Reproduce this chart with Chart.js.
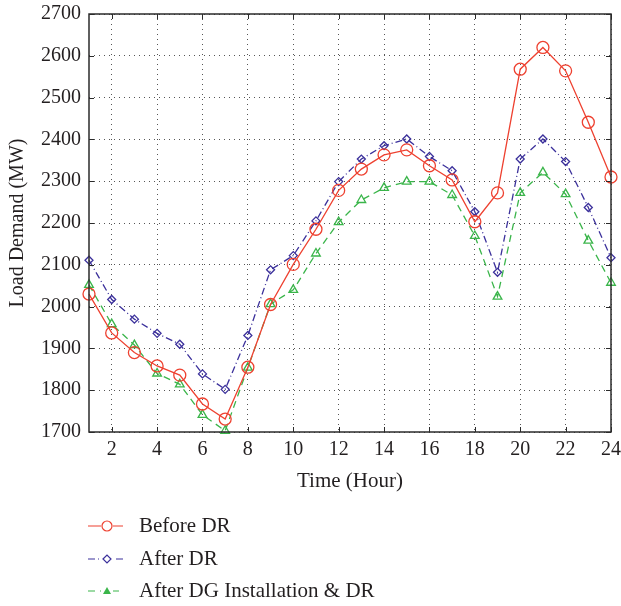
<!DOCTYPE html>
<html>
<head>
<meta charset="utf-8">
<script src="https://cdn.jsdelivr.net/npm/chart.js@4.4.1/dist/chart.umd.min.js"></script>
<style>
    html, body { margin: 0; padding: 0; background: #ffffff; }
    #wrap { width: 621px; height: 606px; }
</style>
</head>
<body>
<div id="wrap"><canvas id="loadChart" width="621" height="606"></canvas></div>
<script>
const hours = [1, 2, 3, 4, 5, 6, 7, 8, 9, 10, 11, 12, 13, 14, 15, 16, 17, 18, 19, 20, 21, 22, 23, 24];
const beforeDR = [2030, 1937, 1890, 1858, 1836, 1767, 1731, 1855, 2005, 2101, 2185, 2278,
                  2329, 2363, 2375, 2337, 2303, 2203, 2272, 2568, 2620, 2564, 2441, 2310];
const afterDR = [2111, 2017, 1970, 1936, 1910, 1839, 1802, 1931, 2088, 2122, 2205, 2299,
                 2353, 2385, 2401, 2359, 2325, 2227, 2082, 2353, 2401, 2347, 2237, 2117];
const afterDG = [2052, 1958, 1908, 1840, 1814, 1741, 1703, 1854, 2006, 2040, 2127, 2202,
                 2255, 2284, 2299, 2299, 2267, 2169, 2024, 2272, 2321, 2269, 2158, 2057];
const xTicks = [2, 4, 6, 8, 10, 12, 14, 16, 18, 20, 22, 24];
const yTicks = [1700, 1800, 1900, 2000, 2100, 2200, 2300, 2400, 2500, 2600, 2700];

const serif = "'Liberation Serif', 'DejaVu Serif', serif";
const textColor = '#231f20';

const series = [
    { label: 'Before DR', data: beforeDR, color: '#ee4130', dash: [], point: 'circle', radius: 6 },
    { label: 'After DR', data: afterDR, color: '#3b309b', dash: [7, 3, 1, 3], point: 'rectRot', radius: 4 },
    { label: 'After DG Installation & DR', data: afterDG, color: '#3ab54a', dash: [7, 5], point: 'triangle', radius: 5 }
];
const legendRows = [526, 559, 591];

// frame around the plot with ticks pointing inwards, and the legend below
const framePlugin = {
    id: 'frame',
    afterDraw(chart) {
        const ctx = chart.ctx;
        const a = chart.chartArea;
        const xs = chart.scales.x;
        const ys = chart.scales.y;
        ctx.save();
        ctx.strokeStyle = '#2b2b2b';
        ctx.lineWidth = 1.5;
        ctx.strokeRect(a.left, a.top, a.right - a.left, a.bottom - a.top);
        ctx.lineWidth = 1;
        ctx.beginPath();
        xTicks.forEach(v => {
            const px = Math.round(xs.getPixelForValue(v)) + 0.5;
            ctx.moveTo(px, a.bottom); ctx.lineTo(px, a.bottom - 5);
            ctx.moveTo(px, a.top); ctx.lineTo(px, a.top + 5);
        });
        yTicks.forEach(v => {
            const py = Math.round(ys.getPixelForValue(v)) + 0.5;
            ctx.moveTo(a.left, py); ctx.lineTo(a.left + 5, py);
            ctx.moveTo(a.right, py); ctx.lineTo(a.right - 5, py);
        });
        ctx.stroke();

        // legend
        ctx.font = '21px ' + serif;
        ctx.textBaseline = 'middle';
        series.forEach((s, i) => {
            const y = legendRows[i];
            ctx.strokeStyle = s.color;
            ctx.lineWidth = 1.2;
            ctx.setLineDash(s.dash);
            ctx.beginPath();
            ctx.moveTo(88, y); ctx.lineTo(123, y);
            ctx.stroke();
            ctx.setLineDash([]);
            ctx.fillStyle = '#ffffff';
            ctx.fillRect(101, y - 6, 12, 12);
            if (s.point === 'triangle') {
                ctx.fillStyle = s.color;
                ctx.beginPath();
                ctx.moveTo(107, y - 4); ctx.lineTo(111, y + 3); ctx.lineTo(103, y + 3);
                ctx.closePath();
                ctx.fill();
            } else {
                ctx.fillStyle = '#ffffff';
                Chart.helpers.drawPoint(ctx, { pointStyle: s.point, radius: s.point === 'circle' ? 5 : 4, rotation: 0, borderWidth: 1.2 }, 107, y);
            }
            ctx.fillStyle = textColor;
            ctx.fillText(s.label, 139, y);
        });
        ctx.restore();
    }
};

const ctx = document.getElementById('loadChart').getContext('2d');
const loadChart = new Chart(ctx, {
    type: 'line',
    data: {
        datasets: series.map(s => ({
            label: s.label,
            data: hours.map((h, i) => ({ x: h, y: s.data[i] })),
            borderColor: s.color,
            backgroundColor: 'rgba(0,0,0,0)',
            borderWidth: 1.3,
            borderDash: s.dash,
            pointStyle: s.point,
            pointRadius: s.radius,
            pointBorderWidth: 1.3,
            pointBorderColor: s.color,
            pointBackgroundColor: 'rgba(0,0,0,0)',
            tension: 0,
            clip: false
        }))
    },
    options: {
        responsive: false,
        animation: false,
        layout: {
            padding: { left: 0, right: 10, top: 14, bottom: 112 }
        },
        plugins: {
            legend: { display: false },
            tooltip: { enabled: false }
        },
        scales: {
            x: {
                type: 'linear',
                min: 1,
                max: 24,
                afterBuildTicks: scale => { scale.ticks = xTicks.map(v => ({ value: v })); },
                afterFit: scale => {
                    scale.height = 62;
                    scale.paddingLeft = 0;
                    scale.paddingRight = 0;
                },
                // border.dash also sets the dash of the grid lines in v4
                border: { display: false, dash: [1, 4] },
                grid: {
                    color: '#555555',
                    lineWidth: 1,
                    drawTicks: false
                },
                ticks: {
                    padding: 6,
                    color: textColor,
                    font: { family: serif, size: 20 },
                    maxRotation: 0,
                    callback: v => String(v)
                },
                title: {
                    display: true,
                    text: 'Time (Hour)',
                    color: textColor,
                    font: { family: serif, size: 21 },
                    padding: { top: 0, bottom: 0 }
                }
            },
            y: {
                min: 1700,
                max: 2700,
                afterBuildTicks: scale => { scale.ticks = yTicks.map(v => ({ value: v })); },
                afterFit: scale => {
                    scale.width = 89;
                    scale.paddingTop = 0;
                    scale.paddingBottom = 0;
                },
                border: { display: false, dash: [1, 4] },
                grid: {
                    color: '#555555',
                    lineWidth: 1,
                    drawTicks: false
                },
                ticks: {
                    padding: 8,
                    color: textColor,
                    font: { family: serif, size: 20 },
                    callback: v => String(v)
                },
                title: {
                    display: true,
                    text: 'Load Demand (MW)',
                    color: textColor,
                    font: { family: serif, size: 20 },
                    padding: { top: 6, bottom: 0 }
                }
            }
        }
    },
    plugins: [framePlugin]
});
</script>
</body>
</html>
